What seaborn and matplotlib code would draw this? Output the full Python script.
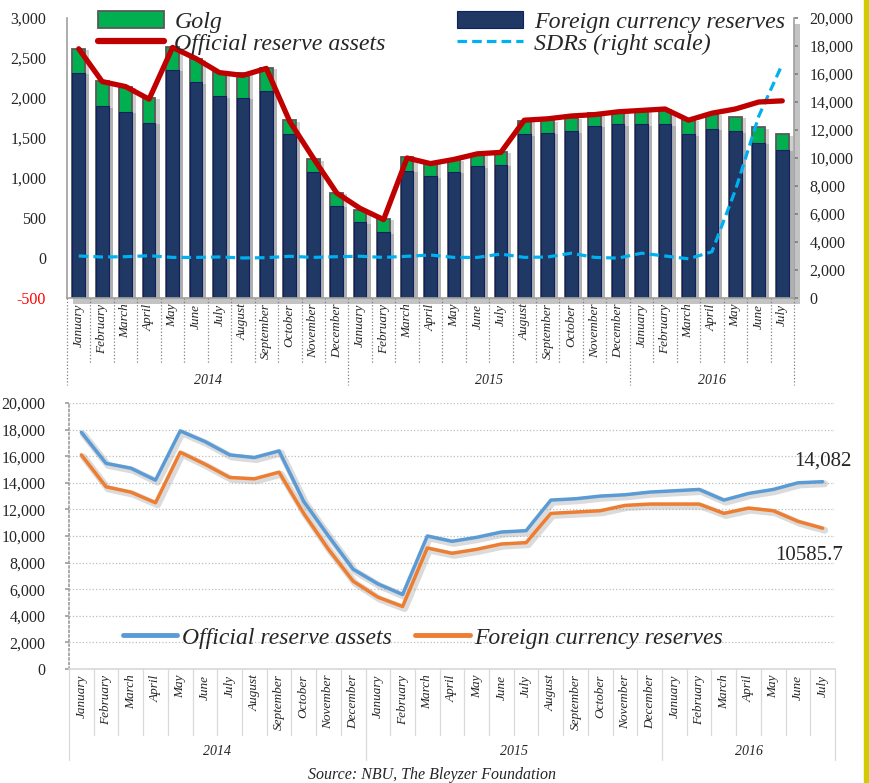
import numpy as np
import pandas as pd
import matplotlib
matplotlib.use("Agg")
import matplotlib.pyplot as plt
import matplotlib.patheffects as pe
from matplotlib.patches import Patch, Rectangle
from matplotlib.lines import Line2D
import seaborn as sns

sns.set_theme(style="white")
plt.rcParams["font.family"] = ["Liberation Serif", "DejaVu Serif"]

# %%
# Data, USD mn
months = ["January", "February", "March", "April", "May", "June", "July",
          "August", "September", "October", "November", "December"]
month_labels = months + months + months[:7]
years = ["2014", "2015", "2016"]
year_len = [12, 12, 7]

official = [17800, 15460, 15100, 14200, 17900, 17100, 16100, 15900, 16400, 12600,
            10000, 7500, 6400, 5600, 10000, 9600, 9900, 10300, 10400, 12700,
            12800, 13000, 13100, 13300, 13400, 13500, 12700, 13200, 13500, 14000,
            14082]
fx_reserves = [16100, 13700, 13300, 12500, 16300, 15400, 14400, 14300, 14800, 11700,
               9000, 6600, 5400, 4700, 9100, 8700, 9000, 9400, 9500, 11700,
               11800, 11900, 12300, 12400, 12400, 12400, 11700, 12100, 11900, 11100,
               10585.7]
gold = [1700, 1800, 1800, 1800, 1650, 1700, 1750, 1750, 1650, 1000,
        900, 900, 900, 950, 950, 1000, 900, 850, 950, 950,
        900, 950, 950, 950, 1000, 1000, 1050, 1050, 1050, 1100,
        1100]
sdrs = [3000, 2930, 2950, 3020, 2900, 2900, 2930, 2860, 2880, 2980,
        2900, 2950, 2980, 2900, 2980, 3070, 2900, 2900, 3140, 2900,
        2930, 3200, 2900, 2850, 3200, 3000, 2800, 3300, 7700, 13000,
        16700]

idx = np.arange(len(month_labels))
df = pd.DataFrame({
    "idx": idx,
    "official": official,
    "fx": fx_reserves,
    "total": np.array(fx_reserves) + np.array(gold),
    "sdr": sdrs,
})

NAVY = "#1F3864"
GREEN = "#00B050"
RED = "#C00000"
CYAN = "#00B0F0"
BLUE = "#5B9BD5"
ORANGE = "#ED7D31"

W, H = 870, 783
fig = plt.figure(figsize=(W / 100, H / 100), dpi=100)
ax = fig.add_axes([67 / W, 1 - 298 / H, 727 / W, 280 / H])
ax2 = fig.add_axes([69 / W, 1 - 669 / H, 766 / W, 266 / H])
# left scale of the top chart (twinx resets ax ticks, so make it first)
axl = ax.twinx()


def month_axis(a, sep_style, sep_color, m_len, y_len, y_txt):
    a.set_xlim(-0.5, len(month_labels) - 0.5)
    a.set_xticks(idx)
    a.set_xticklabels(month_labels, rotation=90, style="italic", fontsize=9.5,
                      va="top", ha="center")
    a.tick_params(axis="x", length=0, pad=4)
    a.set_xlabel("")
    tr = a.get_xaxis_transform()
    bounds = np.cumsum([0] + year_len) - 0.5
    for k in range(len(month_labels) + 1):
        x = k - 0.5
        low = y_len if x in bounds else m_len
        a.plot([x, x], [0, low], transform=tr, clip_on=False,
               color=sep_color, lw=0.9, ls=sep_style)
    for y, a0, a1 in zip(years, bounds[:-1], bounds[1:]):
        a.text((a0 + a1) / 2, y_txt, y, transform=tr, ha="center", va="center",
               style="italic", fontsize=10)


# %%
# Top chart: stacked bars + lines (all on right scale)
ax.patch.set_path_effects([pe.SimplePatchShadow(offset=(4, -4), shadow_rgbFace="#888888",
                                                alpha=0.5), pe.Normal()])
sns.barplot(data=df, x="idx", y="total", color=GREEN, saturation=1, width=0.54,
            edgecolor="#595959", linewidth=1.3, ax=ax)
sns.barplot(data=df, x="idx", y="fx", color=NAVY, saturation=1, width=0.54,
            edgecolor="#102060", linewidth=0.8, ax=ax)
for p in ax.patches:
    p.set_path_effects([pe.SimplePatchShadow(offset=(3, -1), shadow_rgbFace="#777777",
                                             alpha=0.35), pe.Normal()])
sns.lineplot(data=df, x="idx", y="sdr", color=CYAN, lw=2.3,
             linestyle=(0, (3, 1.6)), ax=ax)
sns.lineplot(data=df, x="idx", y="official", color=RED, lw=3.8, ax=ax)

ax.set_ylim(0, 20000)
ax.yaxis.tick_right()
ax.set_yticks(np.arange(0, 20001, 2000))
ax.set_yticklabels([f"{v:,}" for v in range(0, 20001, 2000)], fontsize=11.5)
ax.tick_params(axis="y", length=3, pad=8, color="#808080", right=True, left=False)
ax.set_ylabel("")
ax.spines["top"].set_visible(False)
for s in ["left", "right", "bottom"]:
    ax.spines[s].set_color("#A0A0A0")
    ax.spines[s].set_linewidth(1.2)
month_axis(ax, ":", "#808080", -0.232, -0.31, -0.293)

axl.set_ylim(-500, 3000)
axl.yaxis.tick_left()
ticks_l = np.arange(-500, 3001, 500)
axl.set_yticks(ticks_l)
axl.set_yticklabels([f"{v:,}" for v in ticks_l], fontsize=11.5)
axl.get_yticklabels()[0].set_color("red")
axl.tick_params(axis="y", length=0, pad=15, left=True, right=False)
for s in axl.spines.values():
    s.set_visible(False)

handles = [
    Patch(facecolor=GREEN, edgecolor="#595959", linewidth=1.3),
    Line2D([], [], color=RED, lw=4.5),
    Patch(facecolor=NAVY, edgecolor="#102060", linewidth=0.8),
    Line2D([], [], color=CYAN, lw=2.3, ls=(0, (3, 1.6))),
]
labels = ["Golg", "Official reserve assets", "Foreign currency reserves",
          "SDRs (right scale)"]
axl.legend(handles, labels, ncol=2, loc="upper center", bbox_to_anchor=(0.515, 1.06),
           frameon=False, prop={"style": "italic", "size": 17.2},
           handlelength=2.75, handleheight=0.75, handletextpad=0.45,
           columnspacing=3.0, labelspacing=0.0, borderaxespad=0)

# %%
# Bottom chart: lines
shadow = [pe.SimpleLineShadow(offset=(1.5, -1.5), shadow_color="#999999", alpha=0.35,
                              linewidth=5), pe.Normal()]
sns.lineplot(data=df, x="idx", y="official", color=BLUE, lw=2.5, ax=ax2,
             path_effects=shadow)
sns.lineplot(data=df, x="idx", y="fx", color=ORANGE, lw=2.5, ax=ax2,
             path_effects=shadow)
ax2.set_ylim(0, 20000)
ax2.set_yticks(np.arange(0, 20001, 2000))
ax2.set_yticklabels([f"{v:,}" for v in range(0, 20001, 2000)], fontsize=11.5)
ax2.tick_params(axis="y", length=3, pad=14, color="#A0A0A0", left=True)
ax2.yaxis.grid(True, ls=":", color="#BFBFBF", lw=0.9)
ax2.set_ylabel("")
ax2.spines["top"].set_visible(False)
ax2.spines["right"].set_visible(False)
ax2.spines["left"].set_linestyle(":")
ax2.spines["left"].set_color("#A0A0A0")
ax2.spines["bottom"].set_color("#D9D9D9")
month_axis(ax2, "-", "#D9D9D9", -0.248, -0.342, -0.312)

ax2.text(idx[-1], 15650, f"{official[-1]:,}", ha="center", va="center", fontsize=15)
ax2.text(idx[-1] - 0.55, 8550, f"{fx_reserves[-1]}", ha="center", va="center",
         fontsize=15)

handles2 = [Line2D([], [], color=BLUE, lw=3.5), Line2D([], [], color=ORANGE, lw=3.5)]
ax2.legend(handles2, ["Official reserve assets", "Foreign currency reserves"], ncol=2,
           loc="center", bbox_to_anchor=(0.462, 0.117), frameon=False,
           prop={"style": "italic", "size": 17}, handlelength=2.3,
           handletextpad=0.2, columnspacing=1.0)

fig.text(432 / W, 1 - 775 / H, "Source: NBU, The Bleyzer Foundation", ha="center",
         va="center", style="italic", fontsize=11.5)

# yellow stripe on the right edge
fig.patches.append(Rectangle((864 / W, 0), 6 / W, 1, transform=fig.transFigure,
                             color="#D2CB00", zorder=0))

fig.savefig("out.png", dpi=100)
